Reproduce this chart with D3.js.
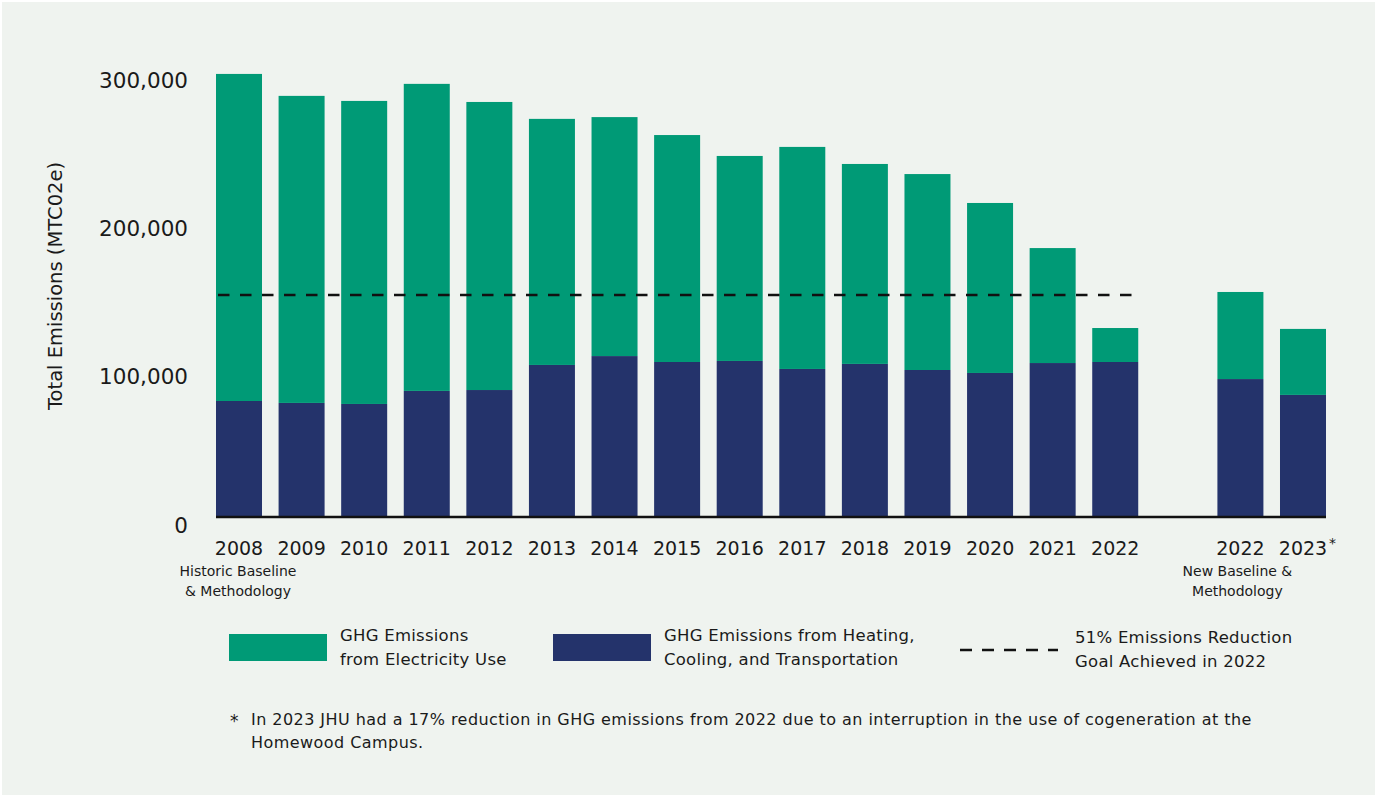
<!DOCTYPE html>
<html>
<head>
<meta charset="utf-8">
<script src="https://cdn.jsdelivr.net/npm/d3@7"></script>
<style>
  body { margin: 0; background: #ffffff; }
  svg text { font-family: "DejaVu Sans", sans-serif; fill: #1a1a1a; }
</style>
</head>
<body>
<div id="chart"></div>
<script>
// categories (one empty slot separates old and new baseline)
const categories = ["2008", "2009", "2010", "2011", "2012", "2013", "2014", "2015",
  "2016", "2017", "2018", "2019", "2020", "2021", "2022", "gap", "2022n", "2023"];
const yearLabels = ["2008", "2009", "2010", "2011", "2012", "2013", "2014", "2015",
  "2016", "2017", "2018", "2019", "2020", "2021", "2022", "", "2022", "2023"];

// MTCO2e
const heating = [78200, 76900, 76200, 85000, 85600, 102500, 108500, 104500,
  105200, 99800, 103200, 99100, 97100, 103800, 104500, null, 93000, 82300];
const electricity = [220500, 207000, 204300, 207000, 194200, 165900, 161100, 153000,
  138200, 149700, 134800, 132100, 114600, 77500, 22900, null, 58700, 44500];

const goal = 149700; // 51% reduction goal line
const yTicks = [0, 100000, 200000, 300000];

const width = 1377;
const height = 797;
const colors = { heating: "#24336b", electricity: "#009a76" };

const svg = d3.select("#chart")
  .append("svg")
  .attr("width", width)
  .attr("height", height);

svg.append("rect")
  .attr("x", 2).attr("y", 2)
  .attr("width", width - 4).attr("height", height - 4)
  .attr("fill", "#eff3ef");

const x = d3.scaleBand()
  .domain(categories)
  .range([216, 1326])
  .paddingInner(0.265)
  .paddingOuter(0);

const y = d3.scaleLinear()
  .domain([0, 300000])
  .range([517, 72]);

// build rows for stacking
const rows = categories.map((c, i) => ({
  cat: c,
  heating: heating[i] || 0,
  electricity: electricity[i] || 0
})).filter(d => d.cat !== "gap");

const stack = d3.stack().keys(["heating", "electricity"]);
const series = stack(rows);

svg.append("g")
  .selectAll("g")
  .data(series)
  .join("g")
  .attr("fill", d => colors[d.key])
  .selectAll("rect")
  .data(d => d)
  .join("rect")
  .attr("x", d => x(d.data.cat))
  .attr("y", d => y(d[1]))
  .attr("width", x.bandwidth())
  .attr("height", d => y(d[0]) - y(d[1]));

// baseline
svg.append("line")
  .attr("x1", 216).attr("x2", 1326)
  .attr("y1", y(0)).attr("y2", y(0))
  .attr("stroke", "#111")
  .attr("stroke-width", 2.5);

// goal line spans the historic bars
svg.append("line")
  .attr("x1", x("2008") + 2)
  .attr("x2", x("2022") + x.bandwidth())
  .attr("y1", y(goal)).attr("y2", y(goal))
  .attr("stroke", "#111")
  .attr("stroke-width", 2.5)
  .attr("stroke-dasharray", "11.5,10.5");

// y axis
const yAxis = svg.append("g")
  .attr("transform", "translate(216,0)")
  .call(d3.axisLeft(y).tickValues(yTicks).tickSize(0).tickPadding(28).tickFormat(d3.format(",")));
yAxis.select(".domain").remove();
yAxis.selectAll("text")
  .attr("dy", "0.7em")
  .style("font-size", "21.5px")
  .style("font-family", "DejaVu Sans, sans-serif")
  .attr("fill", "#1a1a1a");

svg.append("text")
  .attr("transform", "translate(62,286) rotate(-90)")
  .attr("text-anchor", "middle")
  .style("font-size", "19.5px")
  .text("Total Emissions (MTC02e)");

// x axis
const xAxis = svg.append("g")
  .attr("transform", `translate(0,${y(0)})`)
  .call(d3.axisBottom(x).tickSize(0).tickPadding(25)
    .tickFormat((d, i) => yearLabels[categories.indexOf(d)]));
xAxis.select(".domain").remove();
xAxis.selectAll("text")
  .style("font-size", "19px")
  .style("font-family", "DejaVu Sans, sans-serif")
  .attr("fill", "#1a1a1a");

svg.append("text")
  .attr("x", x("2023") + x.bandwidth() / 2 + 26)
  .attr("y", 548)
  .style("font-size", "14px")
  .text("*");

const subLabels = [
  { cat: "2008", lines: ["Historic Baseline", "& Methodology"], dx: -1 },
  { cat: "2022n", lines: ["New Baseline &", "Methodology"], dx: -3 }
];
subLabels.forEach(s => {
  s.lines.forEach((t, j) => {
    svg.append("text")
      .attr("x", x(s.cat) + x.bandwidth() / 2 + s.dx)
      .attr("y", 576 + j * 20)
      .attr("text-anchor", "middle")
      .style("font-size", "14px")
      .text(t);
  });
});

// legend
const legend = [
  { type: "rect", color: colors.electricity, x: 229, lines: ["GHG Emissions", "from Electricity Use"] },
  { type: "rect", color: colors.heating, x: 553, lines: ["GHG Emissions from Heating,", "Cooling, and Transportation"] },
  { type: "dash", x: 960, lines: ["51% Emissions Reduction", "Goal Achieved in 2022"] }
];
legend.forEach(l => {
  if (l.type === "rect") {
    svg.append("rect")
      .attr("x", l.x).attr("y", 634)
      .attr("width", 98).attr("height", 27)
      .attr("fill", l.color);
  } else {
    svg.append("line")
      .attr("x1", l.x).attr("x2", l.x + 98)
      .attr("y1", 650).attr("y2", 650)
      .attr("stroke", "#111")
      .attr("stroke-width", 2.5)
      .attr("stroke-dasharray", "12,10");
  }
  l.lines.forEach((t, j) => {
    svg.append("text")
      .attr("x", l.x + (l.type === "dash" ? 115 : 111))
      .attr("y", 641 + j * 24 + (l.type === "dash" ? 2 : 0))
      .style("font-size", "16.5px")
      .style("letter-spacing", "0.25px")
      .text(t);
  });
});

// footnote
svg.append("text").attr("x", 230).attr("y", 727).style("font-size", "17px").text("*");
svg.append("text").attr("x", 251).attr("y", 725).style("font-size", "16px")
  .style("letter-spacing", "0.45px")
  .text("In 2023 JHU had a 17% reduction in GHG emissions from 2022 due to an interruption in the use of cogeneration at the");
svg.append("text").attr("x", 251).attr("y", 748).style("font-size", "16px")
  .style("letter-spacing", "0.45px")
  .text("Homewood Campus.");
</script>
</body>
</html>
